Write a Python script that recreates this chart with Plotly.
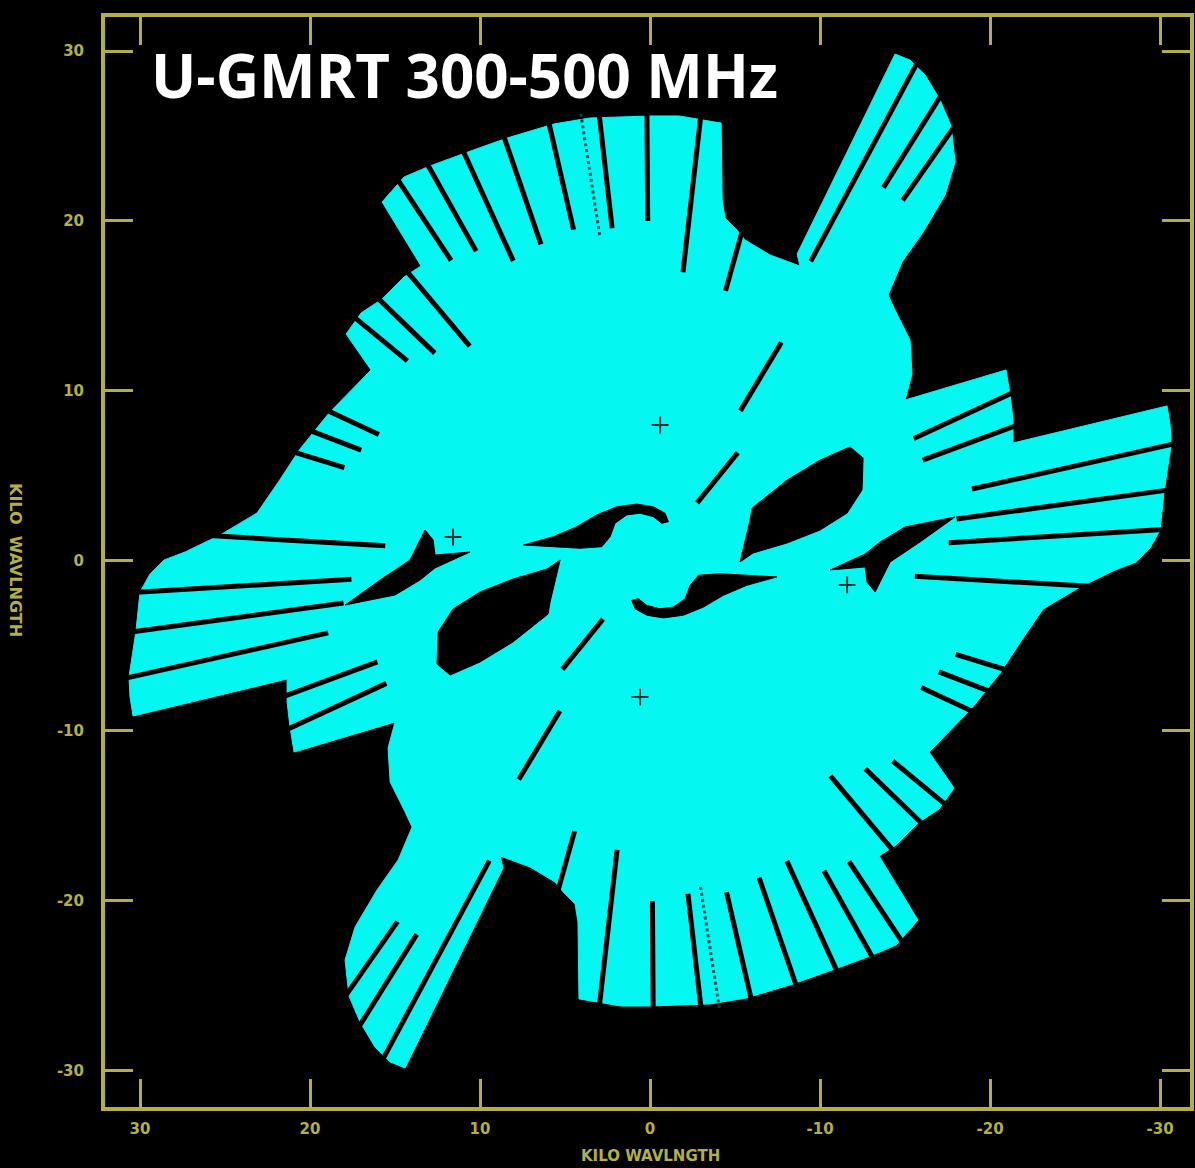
import plotly.graph_objects as go
import numpy as np

# ---------------- data (kilo-wavelength units) ----------------
# outline of the sampled uv region, upper half (the lower half is the conjugate (-u,-v))
outline_u = [-28.59, -29.41, -30.00, -30.24, -30.65, -30.59, -30.41, -21.35, -21.35, -21.18,
             -20.94, -15.00, -15.41, -15.29, -14.41, -14.00, -14.82, -16.06, -17.35, -17.94,
             -17.71, -17.06, -16.18, -15.29, -14.41, -8.65, -8.82, -7.06, -5.59, -5.06,
             -4.41, -4.24, -4.18, -2.76, -1.71, -0.06, 1.76, 3.53, 5.65, 8.41,
             10.71, 12.94, 14.47, 15.76, 13.47, 14.47, 15.76, 17.00, 17.88, 16.41,
             18.88, 20.59, 21.82, 23.12, 25.29, 27.35]
outline_v = [-0.06, 0.76, 1.82, 4.12, 6.82, 8.00, 9.12, 6.94, 8.29, 9.76,
             11.24, 9.47, 11.00, 13.00, 14.76, 15.65, 17.59, 19.35, 21.53, 23.47,
             25.59, 27.12, 28.59, 29.47, 29.82, 18.06, 17.35, 18.00, 18.88, 19.53,
             20.18, 21.24, 25.76, 26.00, 26.18, 26.18, 26.12, 26.06, 25.71, 24.88,
             24.06, 23.24, 22.59, 21.12, 17.35, 16.71, 15.41, 14.59, 13.35, 11.24,
             8.71, 6.59, 4.71, 2.82, 1.53, 0.53]

# unsampled radial gaps between tracks: position angle (deg), inner and outer radius (k-lambda)
gap_theta = [105.6, 96.5, 89.6, 83.5, 77.0, 71.0, 65.5, 60.7, 56.5, 50.0, 44.0, 39.5,
             25.0, 21.0, 17.0, 3.3, 167.4, 172.2, 176.5, 155.1, 159.7, 118.2, 122.0, 125.0,
             129.0, 121.0]
gap_r_in = [16.5, 17.1, 20.0, 19.7, 20.0, 19.7, 19.4, 20.9, 21.2, 16.5, 17.6, 18.5,
            17.6, 18.2, 18.8, 15.6, 19.4, 18.2, 17.6, 17.1, 17.1, 20.0, 25.9, 25.9,
            4.4, 10.3]
gap_r_out = [20.3, 26.8, 26.8, 26.8, 26.8, 26.8, 27.0, 27.3, 27.3, 22.4, 22.6, 22.9,
             21.5, 22.1, 22.6, 26.2, 33.0, 31.8, 31.2, 24.7, 24.7, 34.7, 34.7, 33.5,
             8.2, 15.0]
# faint dotted gap in the top fan
dot_theta = [81.2]
dot_r_in = [19.4]
dot_r_out = [26.6]

# unsampled holes (one of each conjugate pair)
lens_u = [-5.29, -5.88, -6.00, -8.06, -10.00, -11.76, -12.53, -12.47, -11.59, -10.00, -8.06, -6.06]
lens_v = [-0.06, 2.41, 3.12, 4.76, 5.94, 6.71, 6.06, 4.18, 2.82, 1.82, 1.06, 0.47]
hook_u = [7.45, 5.69, 4.31, 3.14, 1.96, 0.78, -0.19, -0.88, -1.08, -0.69, -0.19, 0.59,
          1.37, 2.06, 2.35, 2.84, 4.12, 5.69]
hook_v = [0.94, 1.43, 2.02, 2.71, 3.19, 3.35, 3.19, 2.81, 2.31, 2.22, 2.61, 2.81,
          2.71, 2.22, 1.43, 0.84, 0.75, 0.84]
notch_u = [17.94, 15.88, 14.12, 13.24, 12.76, 12.65, 10.59, 12.65, 13.53, 15.00]
notch_v = [-2.59, -1.12, 0.06, 1.82, 1.24, 0.35, 0.53, -0.41, -1.12, -2.00]
cross_u = [-0.59, 11.59]
cross_v = [8.00, 1.41]

tick_vals = [30, 20, 10, 0, -10, -20, -30]
tick_text = ["30", "20", "10", "0", "-10", "-20", "-30"]

CYAN = "#05f7f2"
YEL = "#b4ae46"

W, H = 1195, 1168


def conj(us, vs):
    return list(us) + [-a for a in us], list(vs) + [-b for b in vs]


def polys(pairs):
    xs, ys = [], []
    for us, vs in pairs:
        xs += list(us) + [us[0], None]
        ys += list(vs) + [vs[0], None]
    return xs, ys


def radial_segments(th, r0, r1):
    xs, ys = [], []
    for t, a, b in zip(th, r0, r1):
        for tt in (t, t + 180.0):
            c, s = np.cos(np.radians(tt)), np.sin(np.radians(tt))
            xs += [a * c, b * c, None]
            ys += [a * s, b * s, None]
    return xs, ys


fig = go.Figure()

fu, fv = conj(outline_u, outline_v)
fig.add_trace(go.Scatter(x=fu + [fu[0]], y=fv + [fv[0]], mode="lines", fill="toself",
                         fillcolor=CYAN, line=dict(color=CYAN, width=1),
                         hoverinfo="skip", showlegend=False))

holes = []
for hu, hv in [(lens_u, lens_v), (hook_u, hook_v), (notch_u, notch_v)]:
    holes.append((hu, hv))
    holes.append(([-a for a in hu], [-b for b in hv]))
hx, hy = polys(holes)
fig.add_trace(go.Scatter(x=hx, y=hy, mode="lines", fill="toself", fillcolor="black",
                         line=dict(color="black", width=1), hoverinfo="skip", showlegend=False))

gx, gy = radial_segments(gap_theta, gap_r_in, gap_r_out)
fig.add_trace(go.Scatter(x=gx, y=gy, mode="lines", line=dict(color="black", width=5),
                         hoverinfo="skip", showlegend=False))
dx_, dy_ = radial_segments(dot_theta, dot_r_in, dot_r_out)
fig.add_trace(go.Scatter(x=dx_, y=dy_, mode="lines", line=dict(color="#064c4c", width=3, dash="dot"),
                         hoverinfo="skip", showlegend=False))

cu, cv = conj(cross_u, cross_v)
fig.add_trace(go.Scatter(x=cu, y=cv, mode="markers",
                         marker=dict(symbol="cross-thin", size=12, line=dict(color="#03312f", width=2)),
                         hoverinfo="skip", showlegend=False))

tickfont = dict(family="DejaVu Sans", size=15, color=YEL, weight="bold")
common = dict(tickvals=tick_vals, ticktext=tick_text, ticks="inside", ticklen=28, tickwidth=3,
              tickcolor=YEL, showline=True, linecolor=YEL, linewidth=4, mirror="ticks",
              showgrid=False, zeroline=False, tickfont=tickfont, automargin=False,
              fixedrange=True)

fig.update_layout(
    width=W, height=H,
    margin=dict(l=0, r=0, t=0, b=0),
    paper_bgcolor="black", plot_bgcolor="black",
    xaxis=dict(domain=[105 / W, 1190 / W], range=[32.06, -31.76], ticklabelstandoff=5, **common),
    yaxis=dict(domain=[(H - 1107) / H, (H - 17) / H], range=[-32.12, 32.0], ticklabelstandoff=14, **common),
    annotations=[
        dict(text="U-GMRT 300-500 MHz", x=464 / W, y=(H - 75) / H, xref="paper", yref="paper",
             xanchor="center", yanchor="middle", showarrow=False,
             font=dict(family="Open Sans", size=60, color="white", weight="bold")),
        dict(text="KILO WAVLNGTH", x=650 / W, y=(H - 1156) / H, xref="paper", yref="paper",
             xanchor="center", yanchor="middle", showarrow=False,
             font=dict(family="DejaVu Sans", size=15, color=YEL, weight="bold")),
        dict(text="KILO  WAVLNGTH", x=16 / W, y=(H - 560) / H, xref="paper", yref="paper",
             xanchor="center", yanchor="middle", showarrow=False, textangle=90,
             font=dict(family="DejaVu Sans", size=16, color=YEL, weight="bold")),
    ],
)

fig.write_html("out.html", config={"displayModeBar": False},
               post_script="document.body.style.margin='0';document.body.style.background='black';")
